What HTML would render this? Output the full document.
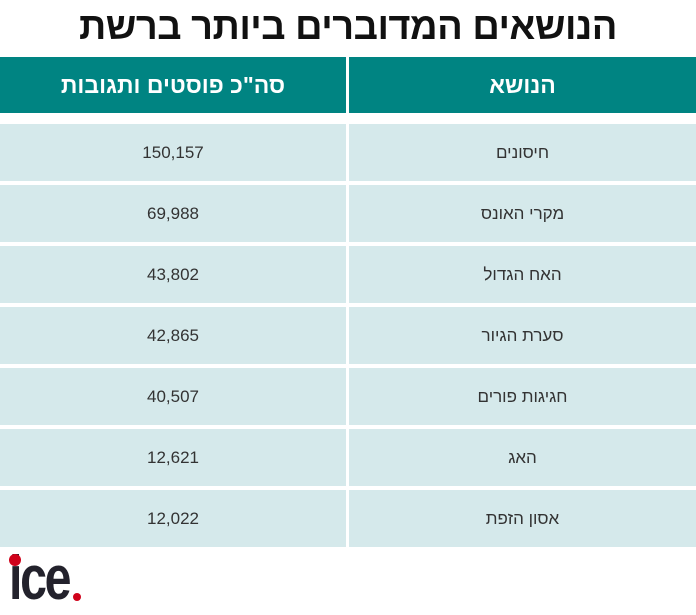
<!DOCTYPE html>
<html><head><meta charset="utf-8"><style>
body{margin:0;width:696px;height:615px;background:#fff;position:relative;overflow:hidden;font-family:"Liberation Sans","Noto Sans CJK SC",sans-serif}
.t{position:absolute;left:0;width:696px;top:6px;text-align:center;font-size:38px;font-weight:bold;color:#111;direction:rtl;letter-spacing:-0.5px}
.c{position:absolute;display:flex;align-items:center;justify-content:center;direction:rtl}
.h{background:#008482;color:#fff;font-weight:bold;font-size:23px;top:57px;height:56px}
.r{background:#d5e9eb;color:#333;font-size:17px;height:57px}
.L{left:0;width:346px}.R{left:349px;width:347px}
</style></head><body>
<div class="t">הנושאים המדוברים ביותר ברשת</div>
<div class="c h L">סה"כ פוסטים ותגובות</div>
<div class="c h R">הנושא</div>
<div class="c r L" style="top:124px">150,157</div><div class="c r R" style="top:124px">חיסונים</div>
<div class="c r L" style="top:185px">69,988</div><div class="c r R" style="top:185px">מקרי האונס</div>
<div class="c r L" style="top:246px">43,802</div><div class="c r R" style="top:246px">האח הגדול</div>
<div class="c r L" style="top:307px">42,865</div><div class="c r R" style="top:307px">סערת הגיור</div>
<div class="c r L" style="top:368px">40,507</div><div class="c r R" style="top:368px">חגיגות פורים</div>
<div class="c r L" style="top:429px">12,621</div><div class="c r R" style="top:429px">האג</div>
<div class="c r L" style="top:490px">12,022</div><div class="c r R" style="top:490px">אסון הזפת</div>
<div style="position:absolute;left:9px;top:548px;font-size:62px;font-weight:bold;color:#23222c;letter-spacing:-3px;line-height:62px;transform:scaleX(0.78);transform-origin:left">ice</div>
<div style="position:absolute;left:9px;top:554px;width:12px;height:12px;border-radius:50%;background:#d0021b"></div>
<div style="position:absolute;left:73px;top:593px;width:8px;height:8px;border-radius:50%;background:#d0021b"></div>
</body></html>
